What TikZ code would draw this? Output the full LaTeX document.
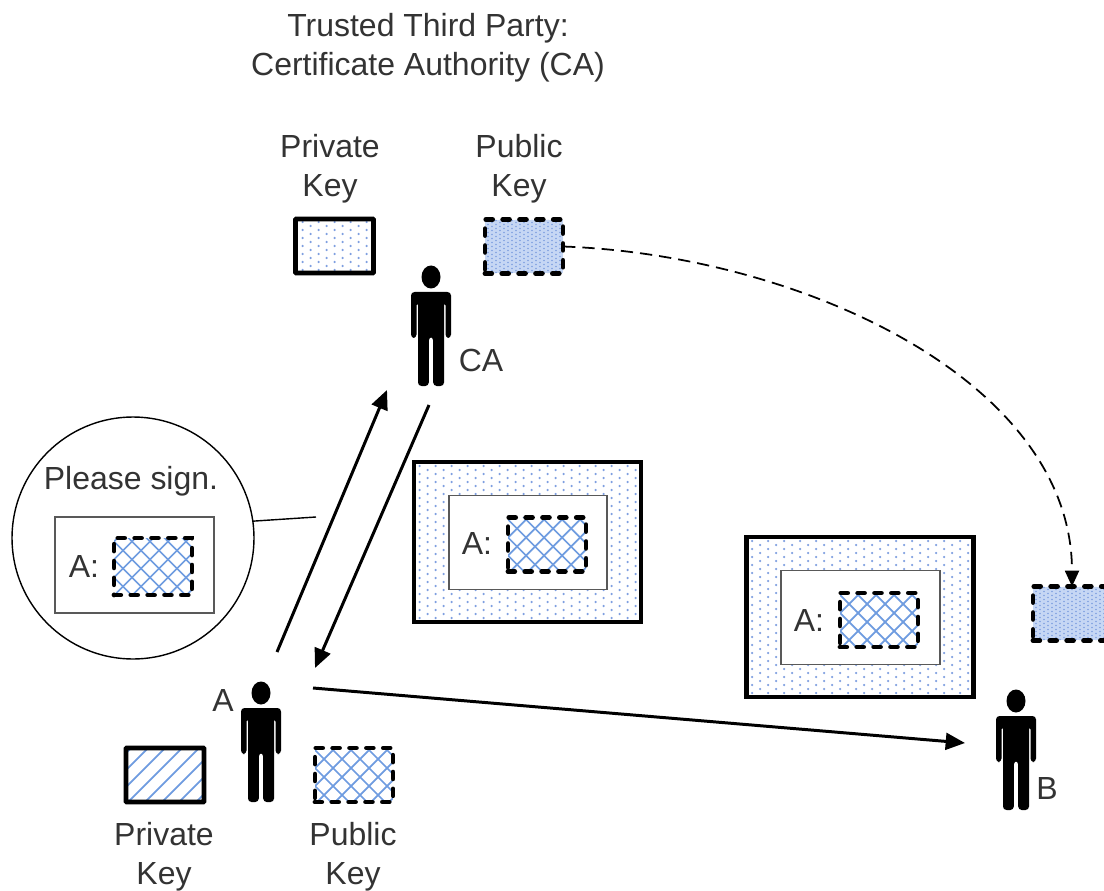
\documentclass[tikz,border=0pt]{standalone}
\usepackage{fontspec}
\setmainfont{Liberation Sans}
\usetikzlibrary{arrows.meta}
\definecolor{keyblue}{HTML}{6F9CE0}
\definecolor{dotblue}{HTML}{7F9FE0}
\definecolor{densefill}{HTML}{C6D7F4}
\definecolor{textgray}{HTML}{333333}
\newcommand{\keydots}[4]{%
	\foreach \col [evaluate=\col as \colshift using {mod(\col,2)*#3/2}] in {0,...,#1}
		\foreach \row in {0,...,#2}
			\fill [dotblue] (\col*#3-#1*#3/2,\row*#3+\colshift-#2*#3/2) circle (#4);}
\newcommand{\keyrising}[1]{%
	\foreach \k in {-4,...,5}
		\draw [keyblue,solid,line width=1pt] (\k*#1-39,-29) -- ++(80,80);}
\newcommand{\keyfalling}[1]{%
	\foreach \k in {0,...,8}
		\draw [keyblue,solid,line width=1pt] (\k*#1-39,-29) -- ++(-80,80);}
\begin{document}
\begin{tikzpicture}[x=0.02cm,y=0.02cm,line cap=butt]
			\tikzstyle{every node}+=[inner sep=0pt,outer sep=0pt,text=textgray,font=\fontsize{18.2}{22.2}\selectfont,align=center]
			\tikzstyle{keybox}=[rectangle,minimum width=1.56cm,minimum height=1.08cm]
			\tikzstyle{solidkey}=[keybox,draw=black,line width=2.8pt,rounded corners=0.5pt]
			\tikzstyle{dashkey}=[keybox,draw=black,line width=2.8pt,dash pattern=on 3.8pt off 5.8pt,line cap=round]
			\tikzstyle{sparsekey}=[path picture={\keydots{10}{7}{8}{1.25}}]
			\tikzstyle{sparsecard}=[path picture={\keydots{29}{20}{8}{1.25}}]
			\tikzstyle{densedots}=[fill=densefill,path picture={\keydots{20}{14}{4}{0.85}}]
			\tikzstyle{hatched}=[path picture={\keyrising{17}}]
			\tikzstyle{crossed}=[path picture={\keyrising{18}\keyfalling{18}}]
			\tikzstyle{cardouter}=[rectangle,draw=black,line width=2.8pt,minimum width=4.54cm,minimum height=3.2cm,sparsecard]
			\tikzstyle{cardinner}=[rectangle,draw=black!65,line width=1.1pt,fill=white,minimum width=3.17cm,minimum height=1.88cm]
			\tikzstyle{flow}=[black,line width=1.7pt,-{Triangle[length=11pt,width=9.5pt]}]
			\tikzset{person/.pic={
				\fill [black] (0,0) ellipse (9.5 and 11.5);
				\fill [black,rounded corners=2pt] (-20,-15) -- (20,-15) -- (20,-61) -- (14.5,-61) -- (14.5,-25) -- (13,-25) -- (13,-109) -- (2.2,-109) -- (2.2,-60) -- (-2.2,-60) -- (-2.2,-109) -- (-13,-109) -- (-13,-25) -- (-14.5,-25) -- (-14.5,-61) -- (-20,-61) -- cycle;
			}}
			\useasboundingbox (0,0) rectangle (1104,-891);
			\node (title) at (428,-48) {Trusted Third Party:\\Certificate Authority (CA)};
			\node (caprivlabel) at (330,-169) {Private\\Key};
			\node (capublabel) at (519,-169) {Public\\Key};
			\node [solidkey,sparsekey] (capriv) at (334.5,-246) {};
			\node [dashkey,densedots] (capub) at (524,-246.5) {};
			\pic at (431,-277) {person};
			\node (calabel) at (481,-360) {CA};
			\node [draw=black,line width=0.8pt,circle,minimum size=4.84cm] (bubble) at (133,-538) {};
			\node (bubbletext) at (131,-481) {Please sign.};
			\node [cardinner,minimum width=3.18cm,minimum height=1.92cm] (bubblecard) at (134.5,-565) {};
			\node (bubblea) at (84,-566) {A:};
			\node [dashkey,crossed,minimum height=1.14cm] (bubblekey) at (153,-566.5) {};
			\node [cardouter] (cardone) at (527.5,-542) {};
			\node [cardinner] (cardoneinner) at (528,-542.5) {};
			\node (cardonea) at (477,-543) {A:};
			\node [dashkey,crossed] (cardonekey) at (547,-544.5) {};
			\node [cardouter] (cardtwo) at (860,-617) {};
			\node [cardinner] (cardtwoinner) at (860.5,-617.5) {};
			\node (cardtwoa) at (809,-620) {A:};
			\node [dashkey,crossed] (cardtwokey) at (879,-620) {};
			\node [dashkey,densedots] (bpub) at (1072,-613.5) {};
			\pic at (261,-693) {person};
			\node (alabel) at (223,-700) {A};
			\node [solidkey,hatched] (apriv) at (165,-775) {};
			\node [dashkey,crossed] (apub) at (354,-775) {};
			\node (aprivlabel) at (164,-857) {Private\\Key};
			\node (apublabel) at (353,-857) {Public\\Key};
			\pic at (1016,-701) {person};
			\node (blabel) at (1047,-788) {B};
			\coordinate (aup) at (277,-652);
			\coordinate (caarrive) at (387,-390);
			\coordinate (caleave) at (429,-405);
			\coordinate (aarrive) at (315,-668);
			\coordinate (aleave) at (313,-688);
			\coordinate (barrive) at (965,-743);
			\coordinate (bubbleend) at (316,-517);
			\draw [flow] (aup) -- (caarrive);
			\draw [flow] (caleave) -- (aarrive);
			\draw [flow] (aleave) -- (barrive);
			\draw [black,line width=0.8pt] (bubble.8) -- (bubbleend);
			\draw [black,line width=1pt,dash pattern=on 7pt off 4pt,-{Triangle[length=9pt,width=8pt]}] (capub.east) .. controls (800,-255) and (1072,-380) .. (bpub.north);
			\end{tikzpicture}
\end{document}
